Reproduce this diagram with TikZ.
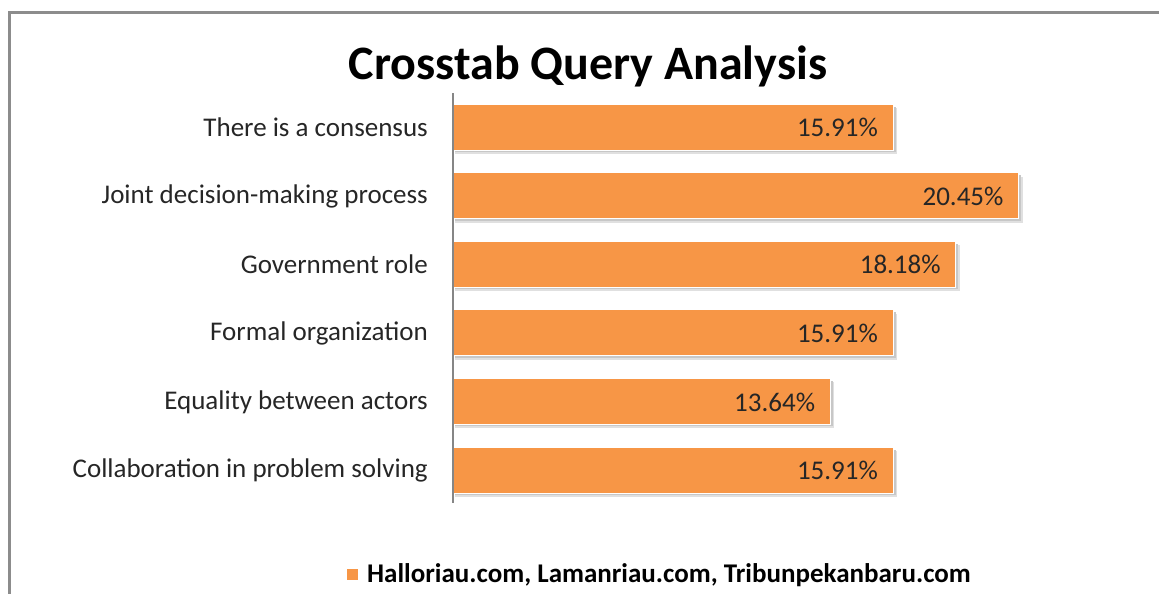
\documentclass[tikz,border=0pt]{standalone}
\usepackage{fontspec}
\setmainfont{Carlito}
\usetikzlibrary{fit}
\definecolor{barorange}{HTML}{F79646}
\definecolor{framegray}{HTML}{8C8C8C}
\definecolor{axisgray}{HTML}{868686}
\definecolor{txt}{HTML}{262626}
\begin{document}
\begin{tikzpicture}[x=1pt,y=-1pt,
  catlabel/.style={anchor=east,inner sep=0pt,font=\fontsize{27}{30}\selectfont,text=txt},
  vallabel/.style={anchor=east,inner sep=0pt,font=\fontsize{27}{30}\selectfont,text=txt},
  bar/.style={fill=barorange,draw=white,line width=0.8pt},
]
\useasboundingbox (0,0) rectangle (1159,594);
% frame
\draw[framegray,line width=3pt] (1159,13) -- (9.5,13) -- (9.5,594);
% title
\node[font=\fontsize{48}{52}\bfseries\selectfont,inner sep=0pt] (title) at (588,66) {Crosstab Query Analysis};
% rows
\foreach \i/\lab/\val in {0/There is a consensus/15.91,1/Joint decision-making process/20.45,2/Government role/18.18,3/Formal organization/15.91,4/Equality between actors/13.64,5/Collaboration in problem solving/15.91}{
  \pgfmathsetmacro{\yt}{104+68.6*\i}
  \pgfmathsetmacro{\xe}{453+27.66*\val}
  \fill[black!12] (455,\yt+4) rectangle (\xe+4,\yt+50);
  \fill[black!22] (455,\yt+2.5) rectangle (\xe+2.5,\yt+48);
  \node[bar,rectangle,inner sep=0pt,fit={(453,\yt) (\xe,\yt+46)}] (bar\i) {};
  \node[vallabel] (val\i) at (\xe-15,\yt+23.5) {\val\%};
  \node[catlabel] (lab\i) at (428,\yt+23.5) {\lab};
}
% axis
\draw[axisgray,line width=2pt] (453,93) -- (453,503);
% legend
\fill[barorange] (347,569) rectangle (358,580);
\node[anchor=west,inner sep=0pt,font=\fontsize{27}{30}\bfseries\selectfont,text=black] (leg) at (367,575) {Halloriau.com, Lamanriau.com, Tribunpekanbaru.com};
\end{tikzpicture}
\end{document}
